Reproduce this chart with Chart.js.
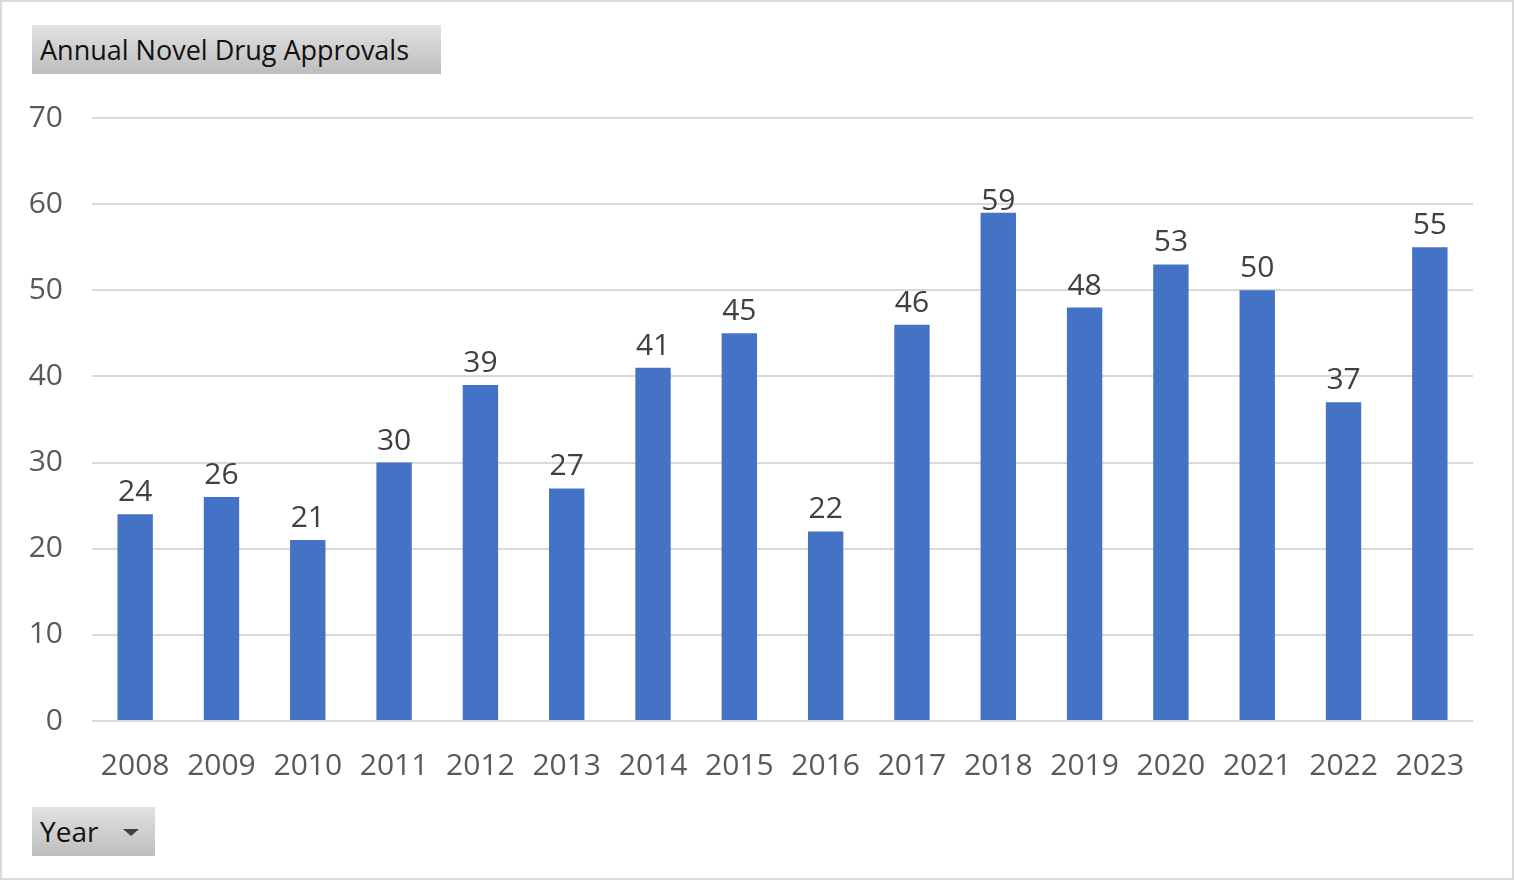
<!DOCTYPE html>
<html>
<head>
<meta charset="utf-8">
<script src="https://cdn.jsdelivr.net/npm/chart.js@4.4.1/dist/chart.umd.min.js"></script>
<style>
  html, body { margin: 0; padding: 0; background: #fff; }
  #wrap { position: relative; width: 1514px; height: 880px; overflow: hidden; font-family: "Open Sans", sans-serif; }
  #chartBox { position: absolute; left: 0; top: 0; width: 1514px; height: 880px; }
  #frame { position: absolute; left: 0; top: 0; width: 1514px; height: 880px; box-sizing: border-box; border: 2px solid #d9d9d9; pointer-events: none; }
  .pivotBtn {
    position: absolute; box-sizing: border-box;
    background: linear-gradient(#e2e2e2, #bdbdbd);
    color: #111; font-size: 27px; line-height: 49px; padding-left: 8px; white-space: nowrap;
  }
  #titleBtn { left: 32px; top: 25px; width: 409px; height: 49px; }
  #yearBtn { left: 32px; top: 807px; width: 123px; height: 49px; font-size: 28px; }
  #yearBtn .arrow { position: absolute; left: 91px; top: 22px; width: 0; height: 0;
    border-left: 8px solid transparent; border-right: 8px solid transparent; border-top: 7px solid #404040; }
</style>
</head>
<body>
<div id="wrap">
  <div id="chartBox"><canvas id="myChart"></canvas></div>
  <div id="frame"></div>
  <div class="pivotBtn" id="titleBtn">Annual Novel Drug Approvals</div>
  <div class="pivotBtn" id="yearBtn">Year<span class="arrow"></span></div>
</div>
<script>
// data
var years = ["2008", "2009", "2010", "2011", "2012", "2013", "2014", "2015",
             "2016", "2017", "2018", "2019", "2020", "2021", "2022", "2023"];
var approvals = [24, 26, 21, 30, 39, 27, 41, 45, 22, 46, 59, 48, 53, 50, 37, 55];
var yTicks = [0, 10, 20, 30, 40, 50, 60, 70];

var FONT = "'Open Sans', sans-serif";

// value labels above each bar, kept inside the plot like excel does
var barLabels = {
  id: "barLabels",
  afterDatasetsDraw: function (chart) {
    var ctx = chart.ctx;
    var meta = chart.getDatasetMeta(0);
    var ds = chart.data.datasets[0];
    ctx.save();
    ctx.font = "30px " + FONT;
    ctx.fillStyle = "#404040";
    ctx.textAlign = "center";
    ctx.textBaseline = "alphabetic";
    meta.data.forEach(function (bar, i) {
      var y = Math.max(bar.y - 13, chart.chartArea.top + 92);
      ctx.fillText(String(ds.data[i]), bar.x, y);
    });
    ctx.restore();
  }
};

var ctx = document.getElementById("myChart").getContext("2d");
var myChart = new Chart(ctx, {
  type: "bar",
  data: {
    labels: years,
    datasets: [
      {
        label: "Total",
        data: approvals,
        backgroundColor: "#4472c4",
        borderWidth: 0,
        categoryPercentage: 1,
        barPercentage: 0.41,
      },
    ],
  },
  options: {
    responsive: true,
    maintainAspectRatio: false,
    animation: false,
    layout: { padding: { top: 118, right: 41, bottom: 0, left: 0 } },
    plugins: {
      legend: { display: false },
      tooltip: { enabled: false },
    },
    scales: {
      x: {
        grid: { display: false, drawTicks: false },
        border: { display: false },
        ticks: {
          color: "#595959",
          font: { family: FONT, size: 30 },
          padding: 27,
          maxRotation: 0,
          autoSkip: false,
        },
        afterFit: function (scale) { scale.height = 159; },
      },
      y: {
        min: 0,
        max: 70,
        afterBuildTicks: function (scale) {
          scale.ticks = yTicks.map(function (v) { return { value: v }; });
        },
        grid: { color: "#d9d9d9", lineWidth: 2, drawTicks: false },
        border: { display: false },
        ticks: {
          color: "#595959",
          font: { family: FONT, size: 30 },
          padding: 29,
        },
        afterFit: function (scale) { scale.width = 92; },
      },
    },
  },
  plugins: [barLabels],
});
</script>
</body>
</html>
